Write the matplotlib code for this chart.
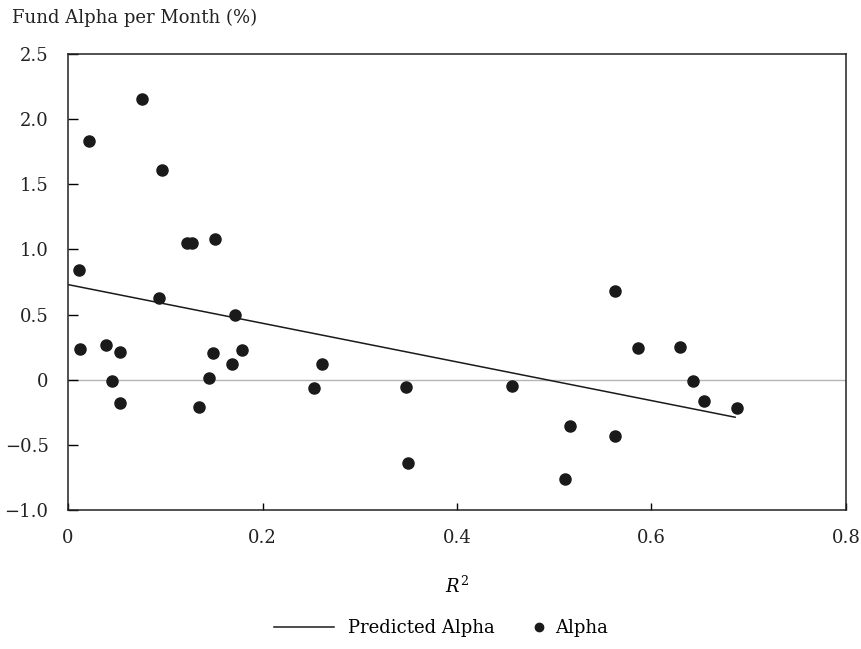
import matplotlib
matplotlib.use("Agg")
import matplotlib.pyplot as plt

# R-squared vs monthly alpha (%) for each fund
r_squared = [0.011, 0.022, 0.076, 0.097, 0.094, 0.122, 0.127, 0.151, 0.172,
             0.012, 0.039, 0.053, 0.045, 0.053, 0.135, 0.145, 0.149, 0.169,
             0.179, 0.253, 0.261, 0.348, 0.350, 0.457, 0.511, 0.516, 0.562,
             0.562, 0.586, 0.629, 0.643, 0.654, 0.688]
alpha = [0.845, 1.834, 2.154, 1.613, 0.626, 1.049, 1.049, 1.077, 0.500,
         0.232, 0.265, 0.211, -0.008, -0.180, -0.206, 0.010, 0.203, 0.124,
         0.229, -0.064, 0.124, -0.054, -0.639, -0.046, -0.765, -0.355, 0.678,
         -0.430, 0.247, 0.250, -0.008, -0.162, -0.216]

# fitted regression line endpoints
fit_x = [0.0, 0.686]
fit_y = [0.73, -0.288]

x_ticks = [0, 0.2, 0.4, 0.6, 0.8]
x_labels = ["0", "0.2", "0.4", "0.6", "0.8"]
y_ticks = [-1.0, -0.5, 0, 0.5, 1.0, 1.5, 2.0, 2.5]
y_labels = ["\u22121.0", "\u22120.5", "0", "0.5", "1.0", "1.5", "2.0", "2.5"]

plt.rcParams["font.family"] = ["DejaVu Serif"]
plt.rcParams["font.size"] = 13
plt.rcParams["mathtext.fontset"] = "dejavuserif"

fig = plt.figure(figsize=(8.62, 6.49), dpi=100)
ax = fig.add_axes([0.0789, 0.2142, 0.9025, 0.7026])

ax.axhline(0, color="#b5b5b5", lw=1.0, zorder=1)
line, = ax.plot(fit_x, fit_y, color="#1a1a1a", lw=1.1,
                label="Predicted Alpha", zorder=2)
dots, = ax.plot(r_squared, alpha, "o", color="#1a1a1a", ms=8, ls="none",
                label="Alpha", zorder=3)

ax.set_xlim(0, 0.8)
ax.set_ylim(-1.0, 2.5)
ax.set_xticks(x_ticks)
ax.set_xticklabels(x_labels, color="#222222")
ax.set_yticks(y_ticks)
ax.set_yticklabels(y_labels, color="#222222")
ax.tick_params(axis="y", direction="in", length=7, width=1, pad=14)
ax.tick_params(axis="x", direction="in", length=5, width=1, pad=14)
for side in ["left", "bottom", "right", "top"]:
    ax.spines[side].set_linewidth(1.1)
    ax.spines[side].set_color("#222222")

ax.set_xlabel("$R^2$", labelpad=20)
fig.text(0.014, 0.972, "Fund Alpha per Month (%)", ha="left", va="center",
         color="#222222")

# two legends so the dot sits close to its label, as in the original
fig.legend(handles=[line], loc="center left", bbox_to_anchor=(0.318, 0.032),
           frameon=False, handlelength=3.3, handletextpad=0.8,
           borderpad=0, borderaxespad=0)
fig.legend(handles=[dots], loc="center left", bbox_to_anchor=(0.619, 0.032),
           frameon=False, handlelength=0.6, handletextpad=0.6,
           markerscale=0.75, borderpad=0, borderaxespad=0)

fig.savefig("out.png", dpi=100)
